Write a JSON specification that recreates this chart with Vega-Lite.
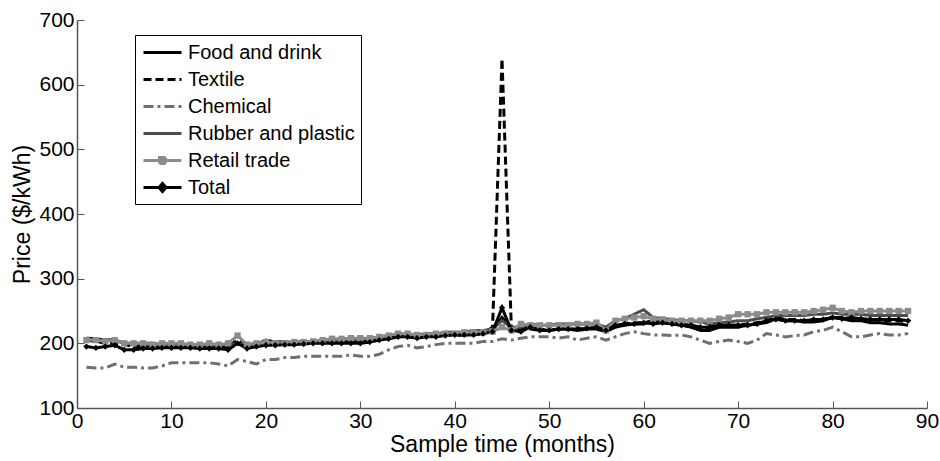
{
  "$schema": "https://vega.github.io/schema/vega-lite/v6.json",
  "autosize": "none",
  "width": 850,
  "height": 388,
  "padding": {"left": 77, "top": 20, "right": 13, "bottom": 53},
  "background": "white",
  "config": {
    "view": {"stroke": null},
    "font": "Arial",
    "axis": {
      "grid": false,
      "domainColor": "#555555",
      "domainWidth": 1.5,
      "tickColor": "#555555",
      "tickWidth": 1,
      "tickSize": -7,
      "labelColor": "#000000",
      "labelFontSize": 21,
      "labelFont": "Arial",
      "titleFont": "Arial",
      "titleFontSize": 23,
      "titleFontWeight": "normal",
      "titleColor": "#000000"
    },
    "legend": {
      "labelFont": "Arial",
      "labelFontSize": 20,
      "labelColor": "#000000"
    }
  },
  "data": {
    "values": [
      {"t":1,"Food and drink":208,"Textile":205,"Chemical":163,"Rubber and plastic":207,"Retail trade":205,"Total":195},
      {"t":2,"Food and drink":207,"Textile":203,"Chemical":162,"Rubber and plastic":205,"Retail trade":205,"Total":193},
      {"t":3,"Food and drink":205,"Textile":200,"Chemical":162,"Rubber and plastic":205,"Retail trade":203,"Total":195},
      {"t":4,"Food and drink":205,"Textile":200,"Chemical":168,"Rubber and plastic":205,"Retail trade":205,"Total":197},
      {"t":5,"Food and drink":200,"Textile":198,"Chemical":163,"Rubber and plastic":200,"Retail trade":200,"Total":190},
      {"t":6,"Food and drink":198,"Textile":195,"Chemical":163,"Rubber and plastic":200,"Retail trade":200,"Total":190},
      {"t":7,"Food and drink":197,"Textile":195,"Chemical":162,"Rubber and plastic":200,"Retail trade":200,"Total":192},
      {"t":8,"Food and drink":197,"Textile":195,"Chemical":162,"Rubber and plastic":200,"Retail trade":198,"Total":192},
      {"t":9,"Food and drink":195,"Textile":195,"Chemical":165,"Rubber and plastic":198,"Retail trade":200,"Total":193},
      {"t":10,"Food and drink":195,"Textile":195,"Chemical":170,"Rubber and plastic":198,"Retail trade":200,"Total":193},
      {"t":11,"Food and drink":195,"Textile":195,"Chemical":170,"Rubber and plastic":198,"Retail trade":200,"Total":193},
      {"t":12,"Food and drink":195,"Textile":195,"Chemical":170,"Rubber and plastic":198,"Retail trade":198,"Total":193},
      {"t":13,"Food and drink":195,"Textile":195,"Chemical":170,"Rubber and plastic":198,"Retail trade":198,"Total":192},
      {"t":14,"Food and drink":195,"Textile":195,"Chemical":170,"Rubber and plastic":198,"Retail trade":200,"Total":192},
      {"t":15,"Food and drink":195,"Textile":195,"Chemical":168,"Rubber and plastic":198,"Retail trade":198,"Total":192},
      {"t":16,"Food and drink":195,"Textile":195,"Chemical":165,"Rubber and plastic":198,"Retail trade":200,"Total":190},
      {"t":17,"Food and drink":200,"Textile":205,"Chemical":175,"Rubber and plastic":200,"Retail trade":212,"Total":200},
      {"t":18,"Food and drink":195,"Textile":195,"Chemical":172,"Rubber and plastic":198,"Retail trade":198,"Total":192},
      {"t":19,"Food and drink":198,"Textile":198,"Chemical":168,"Rubber and plastic":200,"Retail trade":200,"Total":195},
      {"t":20,"Food and drink":205,"Textile":200,"Chemical":175,"Rubber and plastic":202,"Retail trade":202,"Total":197},
      {"t":21,"Food and drink":202,"Textile":200,"Chemical":175,"Rubber and plastic":202,"Retail trade":200,"Total":197},
      {"t":22,"Food and drink":202,"Textile":200,"Chemical":178,"Rubber and plastic":202,"Retail trade":200,"Total":198},
      {"t":23,"Food and drink":200,"Textile":200,"Chemical":178,"Rubber and plastic":202,"Retail trade":202,"Total":198},
      {"t":24,"Food and drink":200,"Textile":202,"Chemical":180,"Rubber and plastic":203,"Retail trade":202,"Total":199},
      {"t":25,"Food and drink":200,"Textile":202,"Chemical":180,"Rubber and plastic":203,"Retail trade":203,"Total":200},
      {"t":26,"Food and drink":202,"Textile":203,"Chemical":180,"Rubber and plastic":205,"Retail trade":205,"Total":200},
      {"t":27,"Food and drink":202,"Textile":203,"Chemical":180,"Rubber and plastic":205,"Retail trade":207,"Total":200},
      {"t":28,"Food and drink":202,"Textile":203,"Chemical":180,"Rubber and plastic":205,"Retail trade":207,"Total":200},
      {"t":29,"Food and drink":202,"Textile":205,"Chemical":182,"Rubber and plastic":207,"Retail trade":208,"Total":200},
      {"t":30,"Food and drink":203,"Textile":205,"Chemical":180,"Rubber and plastic":207,"Retail trade":208,"Total":200},
      {"t":31,"Food and drink":205,"Textile":205,"Chemical":180,"Rubber and plastic":207,"Retail trade":208,"Total":202},
      {"t":32,"Food and drink":208,"Textile":207,"Chemical":183,"Rubber and plastic":210,"Retail trade":210,"Total":205},
      {"t":33,"Food and drink":210,"Textile":208,"Chemical":190,"Rubber and plastic":212,"Retail trade":212,"Total":207},
      {"t":34,"Food and drink":212,"Textile":210,"Chemical":195,"Rubber and plastic":215,"Retail trade":215,"Total":210},
      {"t":35,"Food and drink":210,"Textile":210,"Chemical":197,"Rubber and plastic":213,"Retail trade":215,"Total":210},
      {"t":36,"Food and drink":210,"Textile":210,"Chemical":193,"Rubber and plastic":213,"Retail trade":213,"Total":208},
      {"t":37,"Food and drink":212,"Textile":210,"Chemical":195,"Rubber and plastic":215,"Retail trade":213,"Total":210},
      {"t":38,"Food and drink":213,"Textile":212,"Chemical":198,"Rubber and plastic":215,"Retail trade":215,"Total":210},
      {"t":39,"Food and drink":213,"Textile":213,"Chemical":200,"Rubber and plastic":217,"Retail trade":215,"Total":212},
      {"t":40,"Food and drink":213,"Textile":213,"Chemical":200,"Rubber and plastic":217,"Retail trade":215,"Total":213},
      {"t":41,"Food and drink":213,"Textile":213,"Chemical":200,"Rubber and plastic":217,"Retail trade":217,"Total":213},
      {"t":42,"Food and drink":215,"Textile":215,"Chemical":200,"Rubber and plastic":220,"Retail trade":217,"Total":213},
      {"t":43,"Food and drink":217,"Textile":215,"Chemical":203,"Rubber and plastic":220,"Retail trade":217,"Total":215},
      {"t":44,"Food and drink":220,"Textile":225,"Chemical":203,"Rubber and plastic":222,"Retail trade":218,"Total":218},
      {"t":45,"Food and drink":240,"Textile":640,"Chemical":207,"Rubber and plastic":235,"Retail trade":225,"Total":255},
      {"t":46,"Food and drink":222,"Textile":220,"Chemical":205,"Rubber and plastic":225,"Retail trade":220,"Total":220},
      {"t":47,"Food and drink":225,"Textile":222,"Chemical":208,"Rubber and plastic":225,"Retail trade":230,"Total":218},
      {"t":48,"Food and drink":225,"Textile":222,"Chemical":210,"Rubber and plastic":230,"Retail trade":228,"Total":225},
      {"t":49,"Food and drink":222,"Textile":220,"Chemical":210,"Rubber and plastic":228,"Retail trade":228,"Total":220},
      {"t":50,"Food and drink":220,"Textile":220,"Chemical":210,"Rubber and plastic":228,"Retail trade":228,"Total":220},
      {"t":51,"Food and drink":222,"Textile":222,"Chemical":208,"Rubber and plastic":230,"Retail trade":228,"Total":222},
      {"t":52,"Food and drink":222,"Textile":222,"Chemical":210,"Rubber and plastic":230,"Retail trade":228,"Total":222},
      {"t":53,"Food and drink":220,"Textile":222,"Chemical":205,"Rubber and plastic":230,"Retail trade":230,"Total":222},
      {"t":54,"Food and drink":222,"Textile":222,"Chemical":208,"Rubber and plastic":230,"Retail trade":230,"Total":223},
      {"t":55,"Food and drink":222,"Textile":225,"Chemical":210,"Rubber and plastic":230,"Retail trade":232,"Total":225},
      {"t":56,"Food and drink":218,"Textile":218,"Chemical":205,"Rubber and plastic":225,"Retail trade":220,"Total":220},
      {"t":57,"Food and drink":225,"Textile":228,"Chemical":210,"Rubber and plastic":235,"Retail trade":235,"Total":228},
      {"t":58,"Food and drink":228,"Textile":230,"Chemical":215,"Rubber and plastic":238,"Retail trade":238,"Total":230},
      {"t":59,"Food and drink":230,"Textile":232,"Chemical":218,"Rubber and plastic":245,"Retail trade":240,"Total":230},
      {"t":60,"Food and drink":230,"Textile":232,"Chemical":215,"Rubber and plastic":252,"Retail trade":242,"Total":232},
      {"t":61,"Food and drink":235,"Textile":235,"Chemical":213,"Rubber and plastic":240,"Retail trade":238,"Total":230},
      {"t":62,"Food and drink":232,"Textile":233,"Chemical":213,"Rubber and plastic":238,"Retail trade":237,"Total":232},
      {"t":63,"Food and drink":230,"Textile":232,"Chemical":212,"Rubber and plastic":237,"Retail trade":235,"Total":230},
      {"t":64,"Food and drink":228,"Textile":230,"Chemical":213,"Rubber and plastic":235,"Retail trade":235,"Total":228},
      {"t":65,"Food and drink":225,"Textile":228,"Chemical":210,"Rubber and plastic":235,"Retail trade":235,"Total":228},
      {"t":66,"Food and drink":220,"Textile":225,"Chemical":205,"Rubber and plastic":233,"Retail trade":235,"Total":225},
      {"t":67,"Food and drink":220,"Textile":225,"Chemical":200,"Rubber and plastic":230,"Retail trade":235,"Total":225},
      {"t":68,"Food and drink":225,"Textile":228,"Chemical":203,"Rubber and plastic":232,"Retail trade":238,"Total":228},
      {"t":69,"Food and drink":225,"Textile":228,"Chemical":205,"Rubber and plastic":233,"Retail trade":240,"Total":228},
      {"t":70,"Food and drink":225,"Textile":228,"Chemical":203,"Rubber and plastic":235,"Retail trade":245,"Total":228},
      {"t":71,"Food and drink":228,"Textile":230,"Chemical":200,"Rubber and plastic":235,"Retail trade":245,"Total":228},
      {"t":72,"Food and drink":230,"Textile":232,"Chemical":205,"Rubber and plastic":238,"Retail trade":245,"Total":230},
      {"t":73,"Food and drink":232,"Textile":235,"Chemical":215,"Rubber and plastic":240,"Retail trade":248,"Total":235},
      {"t":74,"Food and drink":238,"Textile":240,"Chemical":213,"Rubber and plastic":243,"Retail trade":248,"Total":237},
      {"t":75,"Food and drink":235,"Textile":237,"Chemical":210,"Rubber and plastic":243,"Retail trade":248,"Total":235},
      {"t":76,"Food and drink":235,"Textile":237,"Chemical":212,"Rubber and plastic":243,"Retail trade":248,"Total":235},
      {"t":77,"Food and drink":233,"Textile":235,"Chemical":213,"Rubber and plastic":243,"Retail trade":248,"Total":235},
      {"t":78,"Food and drink":233,"Textile":235,"Chemical":218,"Rubber and plastic":245,"Retail trade":250,"Total":237},
      {"t":79,"Food and drink":235,"Textile":237,"Chemical":220,"Rubber and plastic":245,"Retail trade":252,"Total":237},
      {"t":80,"Food and drink":240,"Textile":240,"Chemical":225,"Rubber and plastic":247,"Retail trade":255,"Total":240},
      {"t":81,"Food and drink":238,"Textile":240,"Chemical":218,"Rubber and plastic":245,"Retail trade":250,"Total":238},
      {"t":82,"Food and drink":235,"Textile":238,"Chemical":210,"Rubber and plastic":245,"Retail trade":248,"Total":240},
      {"t":83,"Food and drink":235,"Textile":238,"Chemical":210,"Rubber and plastic":245,"Retail trade":250,"Total":238},
      {"t":84,"Food and drink":232,"Textile":236,"Chemical":213,"Rubber and plastic":243,"Retail trade":250,"Total":237},
      {"t":85,"Food and drink":232,"Textile":236,"Chemical":215,"Rubber and plastic":243,"Retail trade":250,"Total":237},
      {"t":86,"Food and drink":230,"Textile":235,"Chemical":213,"Rubber and plastic":243,"Retail trade":250,"Total":237},
      {"t":87,"Food and drink":230,"Textile":235,"Chemical":213,"Rubber and plastic":243,"Retail trade":250,"Total":237},
      {"t":88,"Food and drink":228,"Textile":233,"Chemical":215,"Rubber and plastic":243,"Retail trade":250,"Total":235}
    ]
  },
  "transform": [
    {"fold": ["Food and drink", "Textile", "Chemical", "Rubber and plastic", "Retail trade", "Total"], "as": ["series", "price"]}
  ],
  "encoding": {
    "x": {
      "field": "t", "type": "quantitative",
      "scale": {"domain": [0, 90], "nice": false},
      "axis": {"values": [0,10,20,30,40,50,60,70,80,90], "title": "Sample time (months)", "labelPadding": 9, "titlePadding": 2, "labelFlush": false}
    },
    "y": {
      "field": "price", "type": "quantitative",
      "scale": {"domain": [100, 700], "nice": false, "zero": false},
      "axis": {"values": [100,200,300,400,500,600,700], "title": "Price ($/kWh)", "labelPadding": 10, "titlePadding": 4, "labelFlush": false}
    }
  },
  "layer": [
    {
      "mark": {"type": "line", "strokeWidth": 3},
      "encoding": {
        "color": {
          "field": "series", "type": "nominal",
          "scale": {
            "domain": ["Food and drink", "Textile", "Chemical", "Rubber and plastic", "Retail trade", "Total"],
            "range": ["#000000", "#000000", "#707070", "#4d4d4d", "#8c8c8c", "#000000"]
          },
          "legend": {
            "title": null,
            "orient": "none",
            "legendX": 58,
            "legendY": 15,
            "symbolType": "M-0.9,0L2.9,0",
            "symbolSize": 400,
            "symbolStrokeWidth": 3,
            "symbolFillColor": "transparent",
            "strokeColor": "#000000",
            "fillColor": "#ffffff",
            "padding": 6,
            "rowPadding": 5,
            "labelOffset": 24,
            "labelLimit": 400,
            "encode": {
              "symbols": {
                "update": {
                  "shape": {"signal": "datum.value === 'Retail trade' ? 'M-0.9,0L2.9,0M0.7,-0.3L1.3,-0.3L1.3,0.3L0.7,0.3Z' : datum.value === 'Total' ? 'M-0.9,0L2.9,0M1,-0.4L1.35,0L1,0.4L0.65,0Z' : 'M-0.9,0L2.9,0'"}
                }
              }
            }
          }
        },
        "strokeDash": {
          "field": "series", "type": "nominal",
          "scale": {
            "domain": ["Food and drink", "Textile", "Chemical", "Rubber and plastic", "Retail trade", "Total"],
            "range": [[1, 0], [8, 4], [10, 4, 3, 4], [1, 0], [1, 0], [1, 0]]
          },
          "legend": {
            "title": null,
            "orient": "none",
            "legendX": 58,
            "legendY": 15,
            "symbolType": "M-0.9,0L2.9,0",
            "symbolSize": 400,
            "symbolStrokeWidth": 3,
            "symbolFillColor": "transparent",
            "strokeColor": "#000000",
            "fillColor": "#ffffff",
            "padding": 6,
            "rowPadding": 5,
            "labelOffset": 24,
            "labelLimit": 400,
            "encode": {
              "symbols": {
                "update": {
                  "shape": {"signal": "datum.value === 'Retail trade' ? 'M-0.9,0L2.9,0M0.7,-0.3L1.3,-0.3L1.3,0.3L0.7,0.3Z' : datum.value === 'Total' ? 'M-0.9,0L2.9,0M1,-0.4L1.35,0L1,0.4L0.65,0Z' : 'M-0.9,0L2.9,0'"}
                }
              }
            }
          }
        }
      }
    },
    {
      "transform": [{"filter": {"field": "series", "oneOf": ["Retail trade", "Total"]}}],
      "mark": {"type": "point", "filled": true, "opacity": 1, "size": 40},
      "encoding": {
        "color": {"field": "series", "type": "nominal", "legend": null},
        "shape": {
          "field": "series", "type": "nominal",
          "scale": {"domain": ["Retail trade", "Total"], "range": ["square", "diamond"]},
          "legend": null
        }
      }
    }
  ]
}
